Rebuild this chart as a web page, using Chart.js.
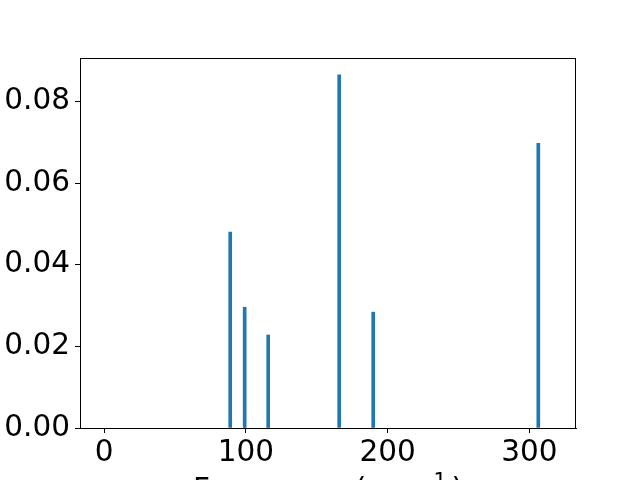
<!DOCTYPE html>
<html>
<head>
<meta charset="utf-8">
<script src="https://cdn.jsdelivr.net/npm/chart.js@4"></script>
<style>
    html, body { margin: 0; padding: 0; background: #fff; overflow: hidden; }
</style>
</head>
<body>
<canvas id="spectrumChart" width="640" height="480"></canvas>
<script>
// 주파수 (cm^-1) 와 세기 값
const frequencies = [88.9, 99.1, 115.7, 165.8, 189.8, 306.3];
const intensities = [0.0480, 0.0296, 0.0228, 0.0866, 0.0284, 0.0698];

// 축 눈금
const xTicks = [0, 100, 200, 300];
const yTicks = [0, 0.02, 0.04, 0.06, 0.08];
const xRange = [-17.1, 332.9];
const yRange = [0, 0.0907];

const barColor = '#1f77b4';
const fontSize = 29.5;
const fontFamily = "'DejaVu Sans'";

Chart.defaults.font.family = fontFamily;
Chart.defaults.color = '#000';

// 사방 테두리 (matplotlib 스타일 박스)
const frameBox = {
    id: 'frameBox',
    afterDraw(chart) {
        const { ctx, chartArea } = chart;
        ctx.save();
        ctx.strokeStyle = '#000';
        ctx.lineWidth = 1;
        ctx.strokeRect(chartArea.left + 0.5, chartArea.top + 0.5,
            chartArea.right - chartArea.left - 1, chartArea.bottom - chartArea.top);
        ctx.restore();
    }
};

// x축 제목: "Frequency (cm" + 위첨자 "−1" + ")"  (아래쪽이 잘리는 위치)
const xTitle = {
    id: 'xTitle',
    afterDraw(chart) {
        const { ctx, chartArea } = chart;
        const parts = [
            { text: 'Frequency (cm', size: fontSize, rise: 0, gap: 5 },
            { text: '−1', size: fontSize * 0.7, rise: 11, gap: 5 },
            { text: ')', size: fontSize, rise: 0, gap: 0 }
        ];
        ctx.save();
        ctx.fillStyle = '#000';
        ctx.textBaseline = 'alphabetic';
        ctx.textAlign = 'left';
        let total = 0;
        parts.forEach(p => {
            ctx.font = `${p.size}px ${fontFamily}`;
            p.w = ctx.measureText(p.text).width;
            total += p.w + p.gap;
        });
        const baseline = 499;
        let x = (chartArea.left + chartArea.right) / 2 - total / 2;
        parts.forEach(p => {
            ctx.font = `${p.size}px ${fontFamily}`;
            ctx.fillText(p.text, x, baseline - p.rise);
            x += p.w + p.gap;
        });
        ctx.restore();
    }
};

const ctx = document.getElementById('spectrumChart').getContext('2d');

new Chart(ctx, {
    type: 'bar',
    data: {
        datasets: [{
            data: frequencies.map((f, i) => ({ x: f, y: intensities[i] })),
            backgroundColor: barColor,
            borderWidth: 0,
            barThickness: 3
        }]
    },
    options: {
        responsive: false,
        animation: false,
        layout: {
            padding: { top: 58, right: 64, left: 0, bottom: 0 }
        },
        plugins: {
            legend: { display: false },
            tooltip: { enabled: false }
        },
        scales: {
            x: {
                type: 'linear',
                min: xRange[0],
                max: xRange[1],
                offset: false,
                afterBuildTicks: (scale) => {
                    scale.ticks = xTicks.map(v => ({ value: v }));
                },
                afterFit: (scale) => { scale.height = 480 - 428; },
                grid: {
                    display: true,
                    offset: false,
                    drawOnChartArea: false,
                    drawTicks: true,
                    tickLength: 5,
                    color: '#000'
                },
                border: { display: true, color: '#000', width: 1 },
                ticks: {
                    padding: 3,
                    maxRotation: 0,
                    font: { size: fontSize },
                    callback: (v) => String(v)
                }
            },
            y: {
                min: yRange[0],
                max: yRange[1],
                afterBuildTicks: (scale) => {
                    scale.ticks = yTicks.map(v => ({ value: v }));
                },
                afterFit: (scale) => { scale.width = 80; },
                grid: {
                    display: true,
                    drawOnChartArea: false,
                    drawTicks: true,
                    tickLength: 5,
                    color: '#000'
                },
                border: { display: true, color: '#000', width: 1 },
                ticks: {
                    padding: 5,
                    font: { size: fontSize },
                    callback: (v) => Number(v).toFixed(2)
                }
            }
        }
    },
    plugins: [frameBox, xTitle]
});
</script>
</body>
</html>
